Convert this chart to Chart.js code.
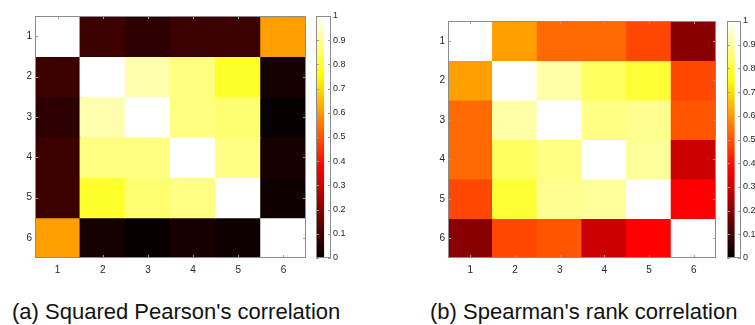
<!DOCTYPE html>
<html>
<head>
<meta charset="utf-8">
<script src="https://cdn.jsdelivr.net/npm/chart.js@4/dist/chart.umd.min.js"></script>
<style>
  html, body { margin: 0; padding: 0; background: #fff; }
  #wrap { position: relative; width: 755px; height: 325px; overflow: hidden; background: #fff; }
  canvas { position: absolute; top: 0; }
  .cap { position: absolute; top: 301px; font: 22px/22px "Liberation Sans", Arial, sans-serif; color: #111; white-space: nowrap; }
</style>
</head>
<body>
<div id="wrap">
  <canvas id="hmA" width="310" height="285" style="left:0px"></canvas>
  <canvas id="cbA" width="60" height="285" style="left:310px"></canvas>
  <canvas id="hmB" width="310" height="285" style="left:410px"></canvas>
  <canvas id="cbB" width="50" height="285" style="left:720px"></canvas>
  <div class="cap" style="left:12px">(a) Squared Pearson's correlation</div>
  <div class="cap" style="left:430px">(b) Spearman's rank correlation</div>
</div>
<script>
// Variable indices shown on both axes
const colLabels = ['1', '2', '3', '4', '5', '6'];
const rowLabels = [1, 2, 3, 4, 5, 6];
// Colour bar tick values
const barTicks = [0, 0.1, 0.2, 0.3, 0.4, 0.5, 0.6, 0.7, 0.8, 0.9, 1];

// Squared Pearson correlation between the six variables
const pearsonRows = [
  [1.00, 0.09, 0.065, 0.09, 0.09, 0.61],
  [0.09, 1.00, 0.92, 0.875, 0.79, 0.03],
  [0.065, 0.92, 1.00, 0.875, 0.86, 0.01],
  [0.09, 0.875, 0.875, 1.00, 0.88, 0.035],
  [0.09, 0.79, 0.86, 0.88, 1.00, 0.02],
  [0.61, 0.03, 0.01, 0.035, 0.02, 1.00]
];

// Spearman rank correlation between the six variables
const spearmanRows = [
  [1.00, 0.61, 0.53, 0.53, 0.48, 0.20],
  [0.61, 1.00, 0.915, 0.845, 0.805, 0.48],
  [0.53, 0.915, 1.00, 0.88, 0.89, 0.50],
  [0.53, 0.845, 0.88, 1.00, 0.90, 0.30],
  [0.48, 0.805, 0.89, 0.90, 1.00, 0.375],
  [0.20, 0.48, 0.50, 0.30, 0.375, 1.00]
];

const clamp = v => Math.max(0, Math.min(1, v));
// "hot" colour map: black -> red -> yellow -> white
function hot(v) {
  const r = clamp(v / 0.375), g = clamp((v - 0.375) / 0.375), b = clamp((v - 0.75) / 0.25);
  return `rgb(${Math.round(r * 255)},${Math.round(g * 255)},${Math.round(b * 255)})`;
}

const tickFont = { family: '"Liberation Sans", Arial, sans-serif', size: 10 };
const barFont = { family: '"Liberation Sans", Arial, sans-serif', size: 9 };
const tickColor = '#262626';
const frameColor = '#8c8c8c';
const tickMarkColor = '#a0a0a0';

// Draws the box around the plot and short inward tick marks on every side
const framePlugin = {
  id: 'frame',
  afterDraw(chart, args, opts) {
    const { ctx, chartArea: a } = chart;
    ctx.save();
    ctx.lineWidth = 1;
    ctx.strokeStyle = tickMarkColor;
    const len = 3;
    ctx.beginPath();
    if (opts.xTicks) {
      const xs = chart.scales.x;
      xs.ticks.forEach((t, i) => {
        const px = Math.round(xs.getPixelForTick(i)) + 0.5;
        ctx.moveTo(px, a.top); ctx.lineTo(px, a.top + len);
        ctx.moveTo(px, a.bottom); ctx.lineTo(px, a.bottom - len);
      });
    }
    const ys = chart.scales.y;
    ys.ticks.forEach(t => {
      const py = Math.round(ys.getPixelForValue(t.value)) + 0.5;
      ctx.moveTo(a.left, py); ctx.lineTo(a.left + len, py);
      ctx.moveTo(a.right, py); ctx.lineTo(a.right - len, py);
    });
    ctx.stroke();
    ctx.strokeStyle = frameColor;
    ctx.strokeRect(Math.round(a.left) + 0.5, Math.round(a.top) + 0.5,
                   Math.round(a.right - a.left) - 1, Math.round(a.bottom - a.top) - 1);
    ctx.restore();
  }
};

// One floating-bar dataset per matrix row, coloured cell by cell
function heatDatasets(matrix) {
  return rowLabels.map((r, i) => ({
    data: matrix[i].map(() => [r - 0.5, r + 0.5]),
    backgroundColor: matrix[i].map(hot),
    borderWidth: 0,
    inflateAmount: 0.6,
    barPercentage: 1,
    categoryPercentage: 1,
    grouped: false
  }));
}

function heatmap(id, matrix, pad, yWidth) {
  return new Chart(document.getElementById(id), {
    type: 'bar',
    data: { labels: colLabels, datasets: heatDatasets(matrix) },
    options: {
      responsive: false,
      animation: false,
      layout: { padding: pad },
      plugins: { legend: { display: false }, tooltip: { enabled: false }, frame: { xTicks: true } },
      scales: {
        x: {
          type: 'category',
          offset: true,
          grid: { display: false, drawTicks: false },
          border: { display: false },
          ticks: { color: tickColor, font: tickFont, padding: 6, maxRotation: 0 },
          afterFit: s => { s.height = 20; }
        },
        y: {
          type: 'linear',
          min: rowLabels[0] - 0.5,
          max: rowLabels[rowLabels.length - 1] + 0.5,
          reverse: true,
          grid: { display: false, drawTicks: false },
          border: { display: false },
          afterBuildTicks: s => { s.ticks = rowLabels.map(v => ({ value: v })); },
          ticks: { color: tickColor, font: tickFont, padding: 3, callback: v => String(v) },
          afterFit: s => { s.width = yWidth; }
        }
      }
    },
    plugins: [framePlugin]
  });
}

function colorbar(id, pad, yWidth) {
  return new Chart(document.getElementById(id), {
    type: 'bar',
    data: {
      labels: [''],
      datasets: [{
        data: [[barTicks[0], barTicks[barTicks.length - 1]]],
        backgroundColor: c => {
          const a = c.chart.chartArea;
          if (!a) return '#000';
          const g = c.chart.ctx.createLinearGradient(0, a.bottom, 0, a.top);
          g.addColorStop(0, hot(0));
          g.addColorStop(0.375, hot(0.375));
          g.addColorStop(0.75, hot(0.75));
          g.addColorStop(1, hot(1));
          return g;
        },
        borderWidth: 0,
        inflateAmount: 0.6,
        barPercentage: 1,
        categoryPercentage: 1
      }]
    },
    options: {
      responsive: false,
      animation: false,
      layout: { padding: pad },
      plugins: { legend: { display: false }, tooltip: { enabled: false }, frame: { xTicks: false } },
      scales: {
        x: { display: false, offset: false },
        y: {
          position: 'right',
          min: barTicks[0],
          max: barTicks[barTicks.length - 1],
          grid: { display: false, drawTicks: false },
          border: { display: false },
          afterBuildTicks: s => { s.ticks = barTicks.map(v => ({ value: v })); },
          ticks: {
            color: tickColor, font: barFont, padding: 2,
            callback: v => (v === 0 || v === 1) ? String(v) : v.toFixed(1)
          },
          afterFit: s => { s.width = yWidth; }
        }
      }
    },
    plugins: [framePlugin]
  });
}

heatmap('hmA', pearsonRows, { top: 16, right: 4, bottom: 7, left: 0 }, 35);
colorbar('cbA', { top: 16, right: 0, bottom: 27, left: 6 }, 39);
heatmap('hmB', spearmanRows, { top: 21, right: 4, bottom: 7, left: 0 }, 38);
colorbar('cbB', { top: 21, right: 0, bottom: 27, left: 7 }, 29);
</script>
</body>
</html>
